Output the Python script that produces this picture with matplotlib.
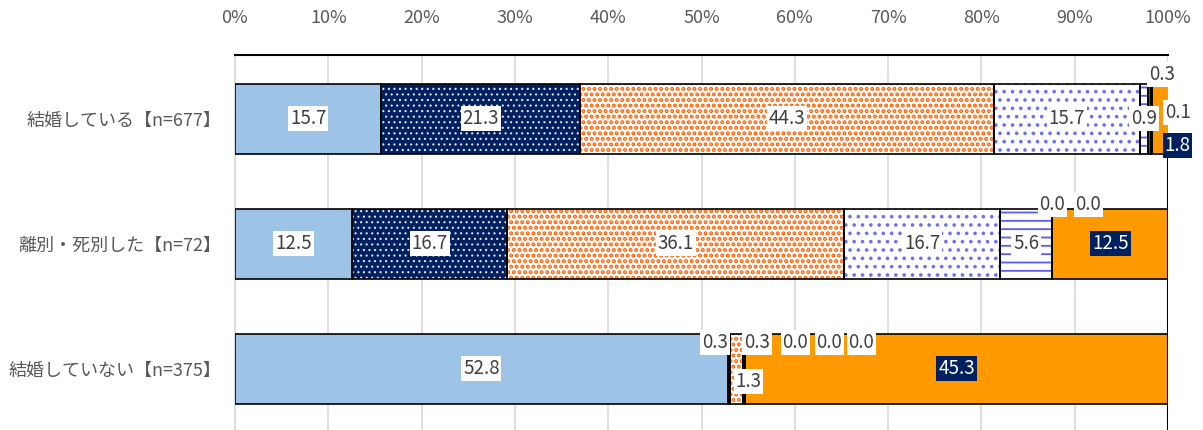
import matplotlib
matplotlib.use("Agg")
import matplotlib.pyplot as plt
import numpy as np

plt.rcParams["font.family"] = ["Noto Sans CJK JP", "DejaVu Sans"]

categories = ["結婚している【n=677】", "離別・死別した【n=72】", "結婚していない【n=375】"]
series_values = [
    [15.7, 12.5, 52.8],
    [21.3, 16.7, 0.3],
    [44.3, 36.1, 1.3],
    [15.7, 16.7, 0.3],
    [0.9, 5.6, 0.0],
    [0.3, 0.0, 0.0],
    [0.1, 0.0, 0.0],
    [1.8, 12.5, 45.3],
]
xtick_labels = ["0%", "10%", "20%", "30%", "40%", "50%", "60%", "70%", "80%", "90%", "100%"]

# face colour, hatch colour, hatch pattern, hatch linewidth per series
styles = [
    ("#9DC3E6", "#9DC3E6", None, 1.0),
    ("#002060", "#DDE3F0", "...", 0.8),
    ("#FFFFFF", "#FF6000", "...", 2.0),
    ("#FFFFFF", "#6F6FF5", "..", 1.4),
    ("#FFFFFF", "#5B5BF0", "--", 1.3),
    ("#4F6228", "#4F6228", None, 1.0),
    ("#BFBFBF", "#BFBFBF", None, 1.0),
    ("#FF9900", "#FF9900", None, 1.0),
]

# label nudges in pixels (row, series) -> (dx, dy)
nudges = {
    (0, 5): (12, 44), (0, 6): (26, 6), (0, 7): (17, -27),
    (1, 5): (0, 39), (1, 6): (36, 39),
    (2, 1): (-14, 26), (2, 2): (12, -13), (2, 3): (13, 26),
    (2, 4): (50, 26), (2, 5): (84, 26), (2, 6): (116, 26),
}

fig = plt.figure(figsize=(12.03, 4.30), dpi=100)
ax = fig.add_axes([235 / 1203, 0.0, (1168 - 235) / 1203, 1 - 55 / 430])

y = np.arange(len(categories))
bar_h = 0.558
lefts = np.zeros(len(categories))
for si, vals in enumerate(series_values):
    vals = np.array(vals)
    face, hcol, hatch, hlw = styles[si]
    with plt.rc_context({"hatch.linewidth": hlw}):
        ax.barh(y, vals, left=lefts, height=bar_h, color=face, edgecolor=hcol,
                hatch=hatch, linewidth=0, zorder=2)
    ax.barh(y, vals, left=lefts, height=bar_h, fill=False, edgecolor="black",
            linewidth=1.2, zorder=3)
    for ri, v in enumerate(vals):
        cx = lefts[ri] + v / 2
        dx, dy = nudges.get((ri, si), (0, 0))
        if si == 7:
            tc, bc = "white", "#002060"
        else:
            tc, bc = "#404040", "white"
        ax.annotate(f"{v:.1f}", (cx, y[ri]), xytext=(dx * 0.72, dy * 0.72),
                    textcoords="offset points", ha="center", va="center",
                    fontsize=13.5, color=tc, zorder=5,
                    bbox=dict(boxstyle="square,pad=0.1", fc=bc, ec="none"))
    lefts = lefts + vals

ax.set_xlim(0, 100)
ax.set_ylim(2.49, -0.51)
ax.set_xticks(np.arange(0, 101, 10))
ax.set_xticklabels(xtick_labels)
ax.xaxis.tick_top()
ax.tick_params(axis="x", length=0, pad=20, labelsize=13, labelcolor="#595959")
ax.set_yticks(y)
ax.set_yticklabels(categories)
ax.tick_params(axis="y", length=0, pad=10, labelsize=13, labelcolor="#595959")
ax.grid(axis="x", color="#D9D9D9", linewidth=1.2, zorder=0)
ax.set_axisbelow(True)

for side in ["bottom", "right"]:
    ax.spines[side].set_visible(False)
ax.spines["top"].set_color("black")
ax.spines["top"].set_linewidth(1.5)
ax.spines["left"].set_color("#D9D9D9")
ax.spines["left"].set_linewidth(1.2)
ax.vlines(100, bar_h / 2, 2.49, color="black", linewidth=1.5, zorder=4)

fig.savefig("out.png", dpi=100)
